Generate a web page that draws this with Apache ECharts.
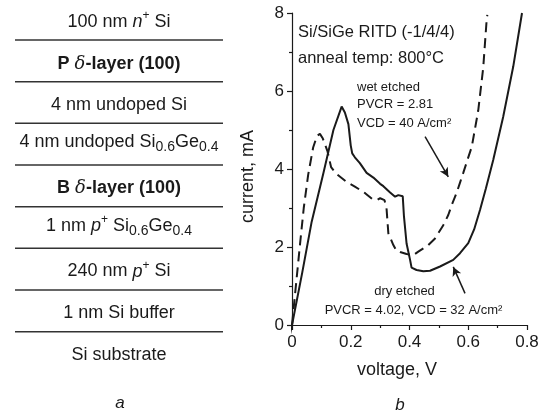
<!DOCTYPE html>
<html>
<head>
<meta charset="utf-8">
<script src="https://cdn.jsdelivr.net/npm/echarts@6/dist/echarts.min.js"></script>
<style>
  html, body { margin: 0; padding: 0; background: #fff; }
  #chart { width: 543px; height: 417px; }
</style>
</head>
<body>
<div id="chart"></div>
<script>
// 左图：层结构（从上到下）
const layerLabels = [
    '100 nm {i|n}{sup|+} Si',
    '{b|P }{d|δ}{b|-layer (100)}',
    '4 nm undoped Si',
    '4 nm undoped Si{sub|0.6}Ge{sub|0.4}',
    '{b|B }{d|δ}{b|-layer (100)}',
    '1 nm {i|p}{sup|+} Si{sub|0.6}Ge{sub|0.4}',
    '240 nm {i|p}{sup|+} Si',
    '1 nm Si buffer',
    'Si substrate'
];
const layerTextY = [22, 64, 105, 142.5, 188, 226, 271.5, 313, 355];
const layerLineY = [40, 81.7, 123.3, 165, 206.7, 248.3, 290, 331.7];

// 右图：I-V 曲线 (voltage V, current mA)
const dryVoltage = [-0.012, 0, 0.035, 0.067, 0.107, 0.141, 0.169, 0.18, 0.192, 0.2, 0.205, 0.214, 0.231, 0.254, 0.277, 0.3, 0.311, 0.334, 0.351, 0.362, 0.377, 0.381, 0.39, 0.402, 0.407, 0.424, 0.447, 0.47, 0.504, 0.549, 0.572, 0.6, 0.62, 0.64, 0.66, 0.685, 0.719, 0.753, 0.783];
const dryCurrent = [-0.42, 0, 1.35, 2.65, 3.9, 5.0, 5.6, 5.45, 5.15, 4.6, 4.4, 4.3, 4.15, 3.9, 3.78, 3.62, 3.56, 3.4, 3.29, 3.33, 3.3, 2.8, 2.09, 1.67, 1.47, 1.41, 1.38, 1.39, 1.5, 1.67, 1.84, 2.1, 2.45, 2.95, 3.5, 4.23, 5.34, 6.62, 8.0];
const wetVoltage = [0, 0.027, 0.04, 0.055, 0.072, 0.085, 0.095, 0.105, 0.121, 0.133, 0.15, 0.186, 0.214, 0.249, 0.275, 0.29, 0.3, 0.315, 0.322, 0.328, 0.345, 0.356, 0.368, 0.39, 0.413, 0.43, 0.464, 0.487, 0.515, 0.532, 0.544, 0.561, 0.572, 0.583, 0.598, 0.612, 0.634, 0.651, 0.663, 0.665];
const wetCurrent = [0, 2.05, 3.0, 3.85, 4.55, 4.85, 4.9, 4.78, 4.45, 4.05, 3.88, 3.67, 3.55, 3.38, 3.22, 3.21, 3.25, 3.2, 2.97, 2.35, 2.05, 1.9, 1.87, 1.82, 1.79, 1.88, 2.05, 2.22, 2.56, 2.82, 3.08, 3.4, 3.65, 3.9, 4.25, 4.57, 5.5, 6.6, 7.86, 7.95];
const wetArrow = [[0.453, 4.83], [0.532, 3.80]];
const dryArrow = [[0.589, 0.81], [0.549, 1.49]];
const xTicks = { min: 0, max: 0.8, interval: 0.2 };
const yTicks = { min: 0, max: 8, interval: 2 };

const font = 'Liberation Sans, Arial, Helvetica, sans-serif';
const ink = '#1a1a1a';

const chart = echarts.init(document.getElementById('chart'));

const richStyles = {
    i: { fontSize: 18, fontStyle: 'italic', fontFamily: font, fill: ink, lineHeight: 24 },
    b: { fontSize: 18, fontWeight: 'bold', fontFamily: font, fill: ink, lineHeight: 24 },
    d: { fontSize: 18, fontStyle: 'italic', fontFamily: 'DejaVu Serif, serif', fill: ink, lineHeight: 24 },
    sup: { fontSize: 12, fontFamily: font, fill: ink, verticalAlign: 'top' },
    sub: { fontSize: 14, fontFamily: font, fill: ink, verticalAlign: 'bottom' }
};

const graphics = [];
layerLabels.forEach((t, k) => {
    graphics.push({
        type: 'text', x: 119, y: layerTextY[k], silent: true,
        style: {
            text: t, rich: richStyles, fontSize: 18, fontFamily: font, fill: ink,
            lineHeight: 24, align: 'center', verticalAlign: 'middle'
        }
    });
});
layerLineY.forEach(y => {
    graphics.push({
        type: 'line', silent: true,
        shape: { x1: 15, y1: y, x2: 223, y2: y },
        style: { stroke: '#333', lineWidth: 1.5 }
    });
});

function txt(x, y, text, size, align, extra) {
    return {
        type: 'text', x: x, y: y, silent: true,
        style: Object.assign({
            text: text, fontSize: size, fontFamily: font, fill: ink,
            align: align || 'left', verticalAlign: 'middle'
        }, extra || {})
    };
}
graphics.push(txt(298, 32, 'Si/SiGe RITD (-1/4/4)', 16.5));
graphics.push(txt(298, 58, 'anneal temp: 800°C', 16.5));
graphics.push(txt(357, 87, 'wet etched', 13));
graphics.push(txt(357, 104.5, 'PVCR = 2.81', 13));
graphics.push(txt(357, 123, 'VCD = 40 A/cm²', 13));
graphics.push(txt(404.5, 291, 'dry etched', 13, 'center'));
graphics.push(txt(413.5, 310, 'PVCR = 4.02, VCD = 32 A/cm²', 13, 'center'));
graphics.push(txt(397, 370, 'voltage, V', 18, 'center'));
graphics.push(txt(248, 176.5, 'current, mA', 18, 'center', {}));
graphics[graphics.length - 1].rotation = Math.PI / 2;
graphics.push(txt(120, 403, 'a', 17, 'center', { fontStyle: 'italic' }));
graphics.push(txt(400, 405, 'b', 17, 'center', { fontStyle: 'italic' }));

const axisCommon = {
    type: 'value',
    axisLine: { show: true, onZero: false, lineStyle: { color: ink, width: 1.2 } },
    axisTick: { show: true, inside: false, length: 5, lineStyle: { color: ink, width: 1.2 } },
    minorTick: { show: true, splitNumber: 2, length: 3, lineStyle: { color: ink, width: 1.2 } },
    splitLine: { show: false },
    axisLabel: { color: ink, fontSize: 17, fontFamily: font, margin: 8 }
};

chart.setOption({
    animation: false,
    grid: { left: 292, right: 16, top: 13, bottom: 92, containLabel: false },
    xAxis: Object.assign({}, axisCommon, xTicks, {
        axisLabel: Object.assign({}, axisCommon.axisLabel, { margin: 9 })
    }),
    yAxis: Object.assign({}, axisCommon, yTicks),
    graphic: graphics,
    series: [
        {
            name: 'dry etched', type: 'line', symbol: 'none', clip: false, silent: true,
            data: dryVoltage.map((v, k) => [v, dryCurrent[k]]),
            lineStyle: { color: ink, width: 2 },
            markLine: {
                silent: true, symbol: ['none', 'arrow'], symbolSize: [7, 9],
                label: { show: false },
                lineStyle: { type: 'solid', color: ink, width: 1.5 },
                data: [
                    [{ coord: wetArrow[0] }, { coord: wetArrow[1] }],
                    [{ coord: dryArrow[0] }, { coord: dryArrow[1] }]
                ]
            }
        },
        {
            name: 'wet etched', type: 'line', symbol: 'none', clip: false, silent: true,
            data: wetVoltage.map((v, k) => [v, wetCurrent[k]]),
            lineStyle: { color: ink, width: 2, type: [10, 6] }
        }
    ]
});
</script>
</body>
</html>
